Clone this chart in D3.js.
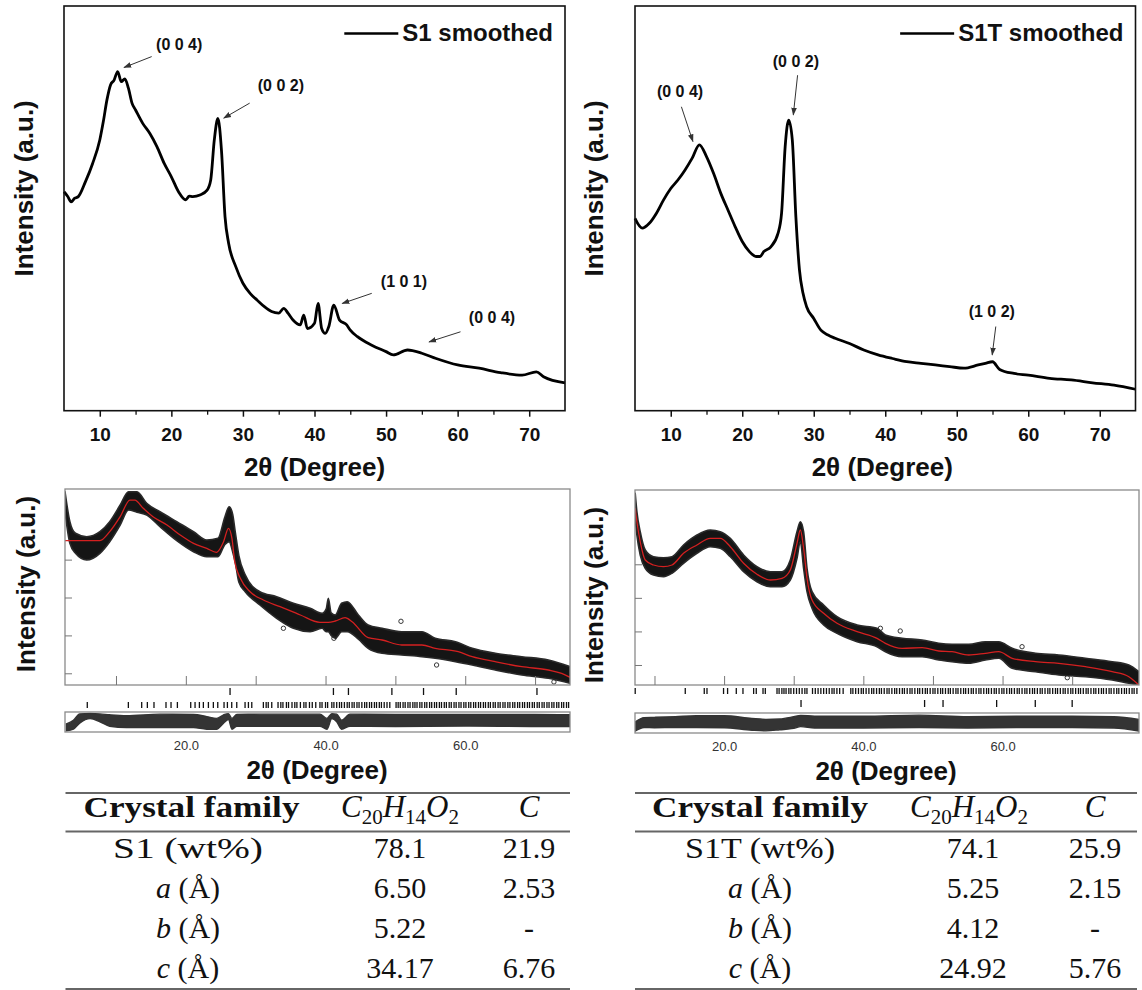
<!DOCTYPE html>
<html><head><meta charset="utf-8">
<script src="https://cdn.jsdelivr.net/npm/d3@7"></script>
<style>body{margin:0;background:#fff}svg{display:block}</style>
</head><body>
<svg id="c" width="1142" height="990"></svg>
<script>
// ---------------- DATA ----------------
// Top-left: S1 smoothed (2θ, intensity a.u.)
const s1X = [5,5.5,6,6.5,7,8,9,10,10.5,11,11.5,12,12.5,13,13.5,14,14.5,15,16,17,18,19,20,21,22,22.5,23,24,25,25.5,26,26.5,27,27.5,28,29,30,31,32,33,34,35,35.7,36.3,37,38,38.5,39,40,40.5,41,41.5,42,42.7,43.5,44.5,45,46,48,50,51,53,55,57,60,63,66,69,71,72,75];
const s1Y = [54.1,53.0,51.6,52.5,52.9,56.6,61.1,66.9,71.5,76.8,80.5,81.7,83.8,81.3,82.0,79.7,76.0,74.3,71.0,68.5,65.2,61.1,57.8,54.1,52.1,53.0,52.9,53.3,54.5,57.0,66.9,72.2,64.4,47.9,41.4,35.6,31.5,29.0,27.3,25.7,24.5,24.1,25.3,24.1,22.4,21.2,23.6,20.3,21.6,26.5,20.3,19.1,20.8,26.1,22.4,21.2,19.9,18.3,16.2,14.6,13.8,15.0,14.2,12.9,11.3,10.5,9.4,8.8,9.6,8.4,6.9];
// Top-right: S1T smoothed
const s1tX = [5,6,7,8,9,10,11,12,13,14,15,16,17,18,19,20,21,22,22.5,23,24,25,25.5,26,26.5,27,27.5,28,28.5,29,30,31,32,33,35,37,39,41,43,45,47,49,51,53,54,55,56,58,60,63,66,69,72,75];
const s1tY = [47.5,45.1,46.3,48.8,52.1,54.9,57.0,59.5,62.4,65.7,62.8,58.6,53.7,49.6,45.5,41.8,39.3,38.1,38.1,39.3,40.5,43.8,48.8,65.2,71.8,66.9,47.9,34.8,29.0,25.7,22.8,19.9,18.7,17.9,16.6,15.0,13.8,12.9,12.1,11.7,11.3,10.9,10.5,11.3,11.7,12.1,10.2,9.2,8.8,8.0,7.6,6.9,6.3,5.3];
const topMajorTicks = [10,20,30,40,50,60,70];
const topMinorTicks = [15,25,35,45,55,65];

// Peak annotations: label, label x/y (data), arrow from x/y to x/y (data)
const s1Labels = ["(0 0 4)","(0 0 2)","(1 0 1)","(0 0 4)"];
const s1LabX = [21.1,35.3,52.5,64.8], s1LabY = [89.1,79.0,30.6,21.7];
const s1ArrX0 = [17.25,30.94,48.0,60.4], s1ArrY0 = [87.5,76.0,29.0,19.5];
const s1ArrX1 = [13.38,27.32,43.87,56.0], s1ArrY1 = [84.8,72.3,26.5,17.0];
const s1tLabels = ["(0 0 4)","(0 0 2)","(1 0 2)"];
const s1tLabX = [11.3,27.5,54.9], s1tLabY = [77.5,84.9,23.2];
const s1tArrX0 = [11.49,27.74,55.46], s1tArrY0 = [75.1,82.9,20.8];
const s1tArrX1 = [13.1,27.14,54.96], s1tArrY1 = [66.5,73.1,13.8];

// Bottom-left: Rietveld S1 (observed band envelope, calculated, difference)
const blObsX = [2.7,3.4,4.2,5.8,7.7,9.1,10.6,11.8,13.0,14.4,16.3,18.7,21.1,23.0,24.6,25.6,26.2,26.7,27.1,27.6,28.5,30.6,33.0,35.4,37.8,39.5,40.1,40.4,40.8,41.4,42.3,43.1,44.7,46.1,48.1,50.9,53.8,55.7,58.6,61.0,64.3,68.1,71.9,75];
const blObsHi = [5792,5001,4695,4605,4737,5001,5441,5792,5792,5486,5265,5001,4737,4518,4563,5133,5397,5200,4700,4100,3600,3153,3021,2847,2715,2583,2700,2979,2600,2539,2847,2890,2539,2275,2188,2098,2098,1924,1834,1660,1528,1438,1351,1174];
const blObsLo = [5265,4431,4167,3990,4167,4473,4914,5309,5250,5178,4869,4500,4209,4077,4077,4400,4473,4209,3900,3400,3153,2802,2451,2188,2098,2188,2098,2098,2000,1924,2098,2098,1900,1660,1528,1483,1438,1396,1306,1219,1087,955,868,736];
const blCalcX = [2.7,7.7,9.1,10.6,12.0,12.7,13.9,15.3,17.3,19.2,21.1,23.0,24.4,25.4,26.1,26.6,27.0,27.8,29.2,31.1,33.5,36.4,39.2,40.4,41.4,42.8,43.8,46.1,48.1,50.9,53.8,55.7,59.0,61.0,64.3,68.1,71.9,73.8,75];
const blCalcY = [4500,4500,4737,5133,5573,5573,5354,5133,4914,4650,4431,4299,4193,4473,4827,4563,3945,3507,3153,2934,2758,2539,2346,2346,2380,2467,2362,1939,1879,1747,1747,1660,1570,1438,1306,1174,1087,1000,894];
const blOutX = [33.97,41.2,50.8,55.9,72.7], blOutY = [2188,1924,2372,1219,773];
const blDiffX = [2.9,3.9,4.8,6.3,7.7,9.1,11.5,16.3,21.1,23.0,24.4,25.4,26.1,26.6,27.3,30.6,35.4,39.2,40.2,40.9,41.6,42.3,43.5,50,60,70,75];
const blDiffHi = [-0.2,0.2,0.9,0.95,0.9,0.8,0.7,0.87,0.85,0.6,0.4,0.8,0.93,0.4,0.85,0.87,0.87,0.87,0.4,0.93,0.87,0.2,0.87,0.85,0.85,0.85,0.8];
const blDiffLo = [-0.97,-0.8,-0.13,0.37,0.03,-0.47,-0.63,-0.63,-0.63,-0.8,-0.8,-0.13,0.27,-0.8,-0.47,-0.47,-0.47,-0.47,-0.8,0.37,0.03,-0.8,-0.47,-0.5,-0.45,-0.5,-0.5];
const blBraggC = [26.33,41.13,43.28,49.5,54.03,58.71,70.27];
const blBraggA = [5.89,11.77,13.68,14.49,15.44,17.16,17.88,18.79,20.70,21.32,21.94,22.51,23.23,23.94,24.57,25.47,25.95,26.57,27.29,28.48,28.96,29.44,31.1,31.5,31.8,32.3,33.2,33.6,33.9,34.4,34.7,35.2,35.6,35.9,36.4,36.9,37.2,37.7,38.1,38.6,39.2,39.5,40.0,40.3,40.9,41.2,41.6,42.0,42.3,42.7,43.1,43.4,43.8,44.1,44.5,44.8,45.2,45.6,45.9,46.3,46.6,47.0,47.3,47.7,48.0,48.4,48.8,49.2,50.1,50.4,50.7,51.1,51.4,51.8,52.1,52.5,52.8,53.1,53.5,53.8,54.2,54.5,54.9,55.2,55.6,55.9,56.3,56.6,57.0,57.3,57.7,58.0,58.4,58.7,59.1,59.4,59.8,60.1,60.5,60.8,61.2,61.5,61.9,62.2,62.6,62.9,63.3,63.6,64.0,64.3,64.7,65.0,65.4,65.7,66.1,66.4,66.8,67.1,67.5,67.8,68.2,68.5,68.9,69.2,69.6,69.9,70.3,70.6,71.0,71.3,71.7,72.0,72.4,72.7,73.1,73.4,73.8,74.1,74.5,74.8];

// Bottom-right: Rietveld S1T
const brX = [7.23,7.47,7.95,8.67,9.86,11.30,12.51,14.17,16.10,18.01,19.45,20.89,22.80,24.72,26.64,28.32,29.51,30.47,30.95,31.42,31.91,32.63,34.30,36.22,39.10,41.97,43.17,45.57,48.44,50.83,52.75,55.14,57.54,59.45,61.38,64.73,68.08,71.91,75.75,78.14,79.57];
const brObsHi = [6115,5567,4971,4426,4226,4196,4226,4575,4873,5022,4971,4774,4277,3928,3779,3779,4128,4971,5269,4971,3881,3184,2787,2439,2192,2093,1894,1795,1745,1646,1617,1617,1694,1694,1497,1349,1298,1200,1098,1000,800];
const brObsLo = [5370,4873,4277,3881,3681,3630,3732,4030,4328,4524,4477,4226,3779,3481,3333,3333,3532,4179,4673,3881,3184,2689,2192,1944,1694,1545,1396,1247,1247,1149,1098,1051,1149,1200,902,800,702,651,553,455,404];
const brCalcY = [5668,5269,4673,4128,3979,3928,3979,4328,4575,4774,4774,4524,4030,3702,3532,3583,3830,4625,5022,4477,3583,2936,2540,2242,1992,1795,1646,1497,1515,1417,1396,1298,1349,1396,1200,1098,1051,949,800,651,404];
const brOutX = [42.45,45.3,62.8,69.3], brOutY = [2093,2013,1545,622];
const brDiffX = [7.2,8.5,10,13,16,20,24,26,28,30,31,33,40,48,55,62,70,76,79.6];
const brDiffHi = [0.1,0.6,0.63,0.7,0.8,0.8,0.5,0.4,0.45,0.7,0.85,0.75,0.75,0.87,0.7,0.75,0.75,0.7,0.4];
const brDiffLo = [-0.9,-0.5,-0.53,-0.5,-0.5,-0.53,-0.8,-0.87,-0.75,-0.6,-0.4,-0.55,-0.55,-0.5,-0.55,-0.5,-0.5,-0.55,-0.9];
const brBraggC = [31.05,48.8,51.45,59.15,64.7,70.0];
const brBraggA = [7.23,14.42,17.15,17.54,19.92,20.5,21.75,22.71,24.24,24.62,25.59,25.92,27.6,27.9,28.3,28.6,28.9,29.3,29.6,30.0,30.4,30.8,31.2,31.6,31.9,32.7,33.1,33.5,33.9,34.3,34.7,35.1,35.5,35.8,36.2,36.6,37.1,38.2,38.5,38.9,39.3,39.7,40.0,40.4,40.8,41.2,41.5,41.9,42.3,42.6,43.0,43.4,43.7,44.1,44.5,44.8,45.2,45.6,45.9,46.3,46.7,47.0,47.4,47.8,48.1,48.5,48.9,49.2,49.6,50.0,50.3,50.7,51.1,51.4,51.8,52.2,52.5,52.9,53.3,53.6,54.0,54.4,54.7,55.1,55.5,55.8,56.2,56.6,56.9,57.3,57.7,58.0,58.4,58.8,59.1,59.5,59.9,60.2,60.6,61.0,61.3,61.7,62.1,62.4,62.8,63.2,63.5,63.9,64.3,64.6,65.0,65.4,65.7,66.1,66.5,66.8,67.2,67.6,67.9,68.3,68.7,69.0,69.4,69.8,70.1,70.5,70.9,71.2,71.6,72.0,72.3,72.7,73.1,73.4,73.8,74.2,74.5,74.9,75.3,75.6,76.0,76.4,76.7,77.1,77.5,77.8,78.2,78.6,78.9,79.3];
const botYTicks = [1000,2000,3000,4000];
const botXTicks = [10,20,30,40,50,60,70];
const botXLabels = [20,40,60];

// Tables
const rowVars = ["","a","b","c"];
const rowRest = [" (Å)"," (Å)"," (Å)"];
const leftRowNames = ["S1 (wt%)"];
const rightRowNames = ["S1T (wt%)"];
const leftCol2 = ["78.1","6.50","5.22","34.17"], leftCol3 = ["21.9","2.53","-","6.76"];
const rightCol2 = ["74.1","5.25","4.12","24.92"], rightCol3 = ["25.9","2.15","-","5.76"];

// ---------------- DRAWING ----------------
const SANS = "'Liberation Sans', Arial, sans-serif";
const SERIF = "'Liberation Serif', 'Times New Roman', serif";
const svg = d3.select('#c');
const defs = svg.append('defs');
defs.append('marker').attr('id','ah').attr('viewBox','0 0 10 10').attr('refX',9).attr('refY',5)
  .attr('markerWidth',8).attr('markerHeight',8).attr('orient','auto').attr('markerUnits','userSpaceOnUse')
  .append('path').attr('d','M0,1.5 L10,5 L0,8.5 Z').attr('fill','#333');

function topPanel(o){
  const x = d3.scaleLinear().domain([5,75]).range([o.left,o.right]);
  const y = d3.scaleLinear().domain([0,100]).range([o.bottom,o.top]);
  const g = svg.append('g');
  g.append('path').datum(d3.zip(o.xs,o.ys))
    .attr('d', d3.line().x(d=>x(d[0])).y(d=>y(d[1])).curve(d3.curveMonotoneX))
    .attr('fill','none').attr('stroke','#000').attr('stroke-width',2.8).attr('stroke-linejoin','round');
  g.append('rect').attr('x',o.left).attr('y',o.top).attr('width',o.right-o.left).attr('height',o.bottom-o.top)
    .attr('fill','none').attr('stroke','#111').attr('stroke-width',1.6);
  const ax = g.append('g').attr('transform',`translate(0,${o.bottom})`)
    .call(d3.axisBottom(x).tickValues(topMajorTicks).tickSize(6).tickFormat(d3.format('d')));
  ax.select('.domain').remove();
  ax.selectAll('line').attr('stroke','#111').attr('stroke-width',1.5);
  ax.selectAll('text').attr('y',17).attr('font-size',19).attr('font-weight','bold').attr('font-family',SANS).attr('fill','#111');
  const mx = g.append('g').attr('transform',`translate(0,${o.bottom})`)
    .call(d3.axisBottom(x).tickValues(topMinorTicks).tickSize(4).tickFormat(''));
  mx.select('.domain').remove();
  mx.selectAll('line').attr('stroke','#111').attr('stroke-width',1.3);
  // titles
  g.append('text').attr('x',(o.left+o.right)/2 + o.xtOff).attr('y',o.bottom+65).attr('text-anchor','middle')
    .attr('font-family',SANS).attr('font-weight','bold').attr('font-size',26).attr('fill','#111').text('2θ (Degree)');
  g.append('text').attr('transform',`translate(${o.ytX},${(o.top+o.bottom)/2-20}) rotate(-90)`).attr('text-anchor','middle')
    .attr('dy','0.36em').attr('font-family',SANS).attr('font-weight','bold').attr('font-size',26).attr('fill','#111').text('Intensity (a.u.)');
  // legend
  const lt = g.append('text').attr('x',o.right-12).attr('y',o.top+35).attr('text-anchor','end')
    .attr('font-family',SANS).attr('font-weight','bold').attr('font-size',24).attr('fill','#111').text(o.legend);
  const w = lt.node().getComputedTextLength();
  g.append('line').attr('x1',o.right-12-w-58).attr('x2',o.right-12-w-4).attr('y1',o.top+27.5).attr('y2',o.top+27.5)
    .attr('stroke','#000').attr('stroke-width',2.6);
  // annotations
  o.labels.forEach((t,i)=>{
    g.append('text').attr('x',x(o.labX[i])).attr('y',y(o.labY[i])).attr('text-anchor','middle')
      .attr('font-family',SANS).attr('font-weight','bold').attr('font-size',16).attr('fill','#111').text(t);
    g.append('line').attr('x1',x(o.ax0[i])).attr('y1',y(o.ay0[i])).attr('x2',x(o.ax1[i])).attr('y2',y(o.ay1[i]))
      .attr('stroke','#333').attr('stroke-width',1).attr('marker-end','url(#ah)');
  });
}

topPanel({left:64,right:565,top:6,bottom:410.7,xs:s1X,ys:s1Y,legend:'S1 smoothed',ytX:24,xtOff:0,
  labels:s1Labels,labX:s1LabX,labY:s1LabY,ax0:s1ArrX0,ay0:s1ArrY0,ax1:s1ArrX1,ay1:s1ArrY1});
topPanel({left:635,right:1135.5,top:6,bottom:410.7,xs:s1tX,ys:s1tY,legend:'S1T smoothed',ytX:594,xtOff:-3,
  labels:s1tLabels,labX:s1tLabX,labY:s1tLabY,ax0:s1tArrX0,ay0:s1tArrY0,ax1:s1tArrX1,ay1:s1tArrY1});

function rietveld(o){
  const x = d3.scaleLinear().domain(o.xd).range([o.left,o.right]);
  const y = d3.scaleLinear().domain(o.yd).range([o.bottom,o.top]);
  const g = svg.append('g');
  const cid = 'clip'+o.id;
  defs.append('clipPath').attr('id',cid).append('rect').attr('x',o.left).attr('y',o.top)
    .attr('width',o.right-o.left).attr('height',o.bottom-o.top);
  const pg = g.append('g').attr('clip-path',`url(#${cid})`);
  const obs = o.obsX.map((v,i)=>[v,o.obsHi[i],o.obsLo[i]]);
  pg.append('path').datum(obs)
    .attr('d', d3.area().x(d=>x(d[0])).y1(d=>y(d[1])).y0(d=>y(d[2])).curve(d3.curveMonotoneX))
    .attr('fill','#151515').attr('stroke','#2a2a2a').attr('stroke-width',1.6).attr('stroke-linejoin','round');
  pg.selectAll('circle.out').data(d3.zip(o.outX,o.outY)).join('circle')
    .attr('cx',d=>x(d[0])).attr('cy',d=>y(d[1])).attr('r',2.2).attr('fill','none').attr('stroke','#222').attr('stroke-width',0.9);
  pg.append('path').datum(d3.zip(o.calcX,o.calcY))
    .attr('d', d3.line().x(d=>x(d[0])).y(d=>y(d[1])).curve(d3.curveMonotoneX))
    .attr('fill','none').attr('stroke','#d42020').attr('stroke-width',1.3);
  g.append('rect').attr('x',o.left).attr('y',o.top).attr('width',o.right-o.left).attr('height',o.bottom-o.top)
    .attr('fill','none').attr('stroke','#8a8a8a').attr('stroke-width',1.3);
  const ya = g.append('g').attr('transform',`translate(${o.left},0)`)
    .call(d3.axisRight(y).tickValues(botYTicks).tickSize(7).tickFormat(''));
  ya.select('.domain').remove(); ya.selectAll('line').attr('stroke','#777');
  const xa = g.append('g').attr('transform',`translate(0,${o.bottom})`)
    .call(d3.axisTop(x).tickValues(botXTicks).tickSize(9).tickFormat(''));
  xa.select('.domain').remove(); xa.selectAll('line').attr('stroke','#777');
  // Bragg rows
  [[o.r1, o.r1y],[o.r2, o.r2y]].forEach(([arr,yy])=>{
    g.selectAll(null).data(arr).join('line')
      .attr('x1',d=>x(d)).attr('x2',d=>x(d)).attr('y1',yy[0]).attr('y2',yy[1])
      .attr('stroke','#111').attr('stroke-width',1.3);
  });
  // difference
  const dy = d3.scaleLinear().domain([-1,1]).range([o.dBot-1,o.dTop+1]);
  const did = 'dclip'+o.id;
  defs.append('clipPath').attr('id',did).append('rect').attr('x',o.left).attr('y',o.dTop)
    .attr('width',o.right-o.left).attr('height',o.dBot-o.dTop);
  const dd = o.dX.map((v,i)=>[v,o.dHi[i],o.dLo[i]]);
  g.append('g').attr('clip-path',`url(#${did})`).append('path').datum(dd)
    .attr('d', d3.area().x(d=>x(d[0])).y1(d=>dy(d[1])).y0(d=>dy(d[2])).curve(d3.curveMonotoneX))
    .attr('fill','#1e1e1e').attr('fill-opacity',0.9).attr('stroke','#333').attr('stroke-width',1.4);
  g.append('rect').attr('x',o.left).attr('y',o.dTop).attr('width',o.right-o.left).attr('height',o.dBot-o.dTop)
    .attr('fill','none').attr('stroke','#8a8a8a').attr('stroke-width',1.3);
  const la = g.append('g').attr('transform',`translate(0,${o.dBot})`)
    .call(d3.axisBottom(x).tickValues(botXLabels).tickSize(0).tickFormat(d3.format('.1f')));
  la.select('.domain').remove();
  la.selectAll('text').attr('y',9).attr('font-size',13).attr('font-family',SANS).attr('fill','#333');
  g.append('text').attr('x',o.xtX).attr('y',o.dBot+47).attr('text-anchor','middle')
    .attr('font-family',SANS).attr('font-weight','bold').attr('font-size',26).attr('fill','#111').text('2θ (Degree)');
  g.append('text').attr('transform',`translate(${o.ytX},${o.ytY}) rotate(-90)`).attr('text-anchor','middle')
    .attr('dy','0.36em').attr('font-family',SANS).attr('font-weight','bold').attr('font-size',26).attr('fill','#111').text('Intensity (a.u.)');
}

rietveld({id:'L',left:65,right:570,top:489,bottom:685,xd:[2.7,75],yd:[691,5864],
  obsX:blObsX,obsHi:blObsHi,obsLo:blObsLo,calcX:blCalcX,calcY:blCalcY,outX:blOutX,outY:blOutY,
  r1:blBraggC,r1y:[688,695],r2:blBraggA,r2y:[702,708],
  dX:blDiffX,dHi:blDiffHi,dLo:blDiffLo,dTop:712,dBot:732,xtX:317,ytX:26,ytY:584});
rietveld({id:'R',left:635,right:1139,top:490,bottom:685,xd:[7.2,79.6],yd:[404,6213],
  obsX:brX,obsHi:brObsHi,obsLo:brObsLo,calcX:brX,calcY:brCalcY,outX:brOutX,outY:brOutY,
  r1:brBraggA,r1y:[688,694],r2:brBraggC,r2y:[700,707],
  dX:brDiffX,dHi:brDiffHi,dLo:brDiffLo,dTop:713,dBot:733,xtX:886,ytX:594,ytY:595});

function table(o){
  const g = svg.append('g');
  [793, 831.5, 989].forEach(yy=>g.append('line').attr('x1',o.left).attr('x2',o.right).attr('y1',yy).attr('y2',yy)
    .attr('stroke','#666').attr('stroke-width',2));
  g.append('text').attr('x',o.c1h).attr('y',817).attr('text-anchor','middle').attr('font-family',SERIF)
    .attr('font-weight','bold').attr('font-size',30).attr('fill','#111')
    .attr('textLength',216).attr('lengthAdjust','spacingAndGlyphs').text('Crystal family');
  const f = g.append('text').attr('x',o.c2h).attr('y',817).attr('text-anchor','middle').attr('font-family',SERIF)
    .attr('font-size',31).attr('fill','#111');
  [['C',0,true],['20',7,false],['H',-7,true],['14',7,false],['O',-7,true],['2',7,false]].forEach(([t,d,it])=>{
    const s = f.append('tspan').attr('dy',d).text(t);
    if(it) s.attr('font-style','italic'); else s.attr('font-size',21);
  });
  g.append('text').attr('x',o.c3).attr('y',817).attr('text-anchor','middle').attr('font-family',SERIF)
    .attr('font-style','italic').attr('font-size',31).attr('fill','#111').text('C');
  const ys = [858,898,938,978];
  ys.forEach((yy,i)=>{
    const t = g.append('text').attr('x',o.c1).attr('y',yy).attr('text-anchor','middle').attr('font-family',SERIF)
      .attr('font-size',30).attr('fill','#111');
    if(i===0){ t.attr('textLength',o.w0).attr('lengthAdjust','spacingAndGlyphs').text(o.names[0]); }
    else { t.append('tspan').attr('font-style','italic').text(rowVars[i]); t.append('tspan').text(rowRest[i-1]); }
    g.append('text').attr('x',o.c2).attr('y',yy).attr('text-anchor','middle').attr('font-family',SERIF)
      .attr('font-size',30).attr('fill','#111').text(o.col2[i]);
    g.append('text').attr('x',o.c3).attr('y',yy).attr('text-anchor','middle').attr('font-family',SERIF)
      .attr('font-size',30).attr('fill','#111').text(o.col3[i]);
  });
}
table({left:65.5,right:570,c1h:191.5,c1:188,c2h:400,c2:400,c3:529,names:leftRowNames,w0:150,col2:leftCol2,col3:leftCol3});
table({left:635,right:1137,c1h:760,c1:760,c2h:969,c2:973,c3:1095,names:rightRowNames,w0:150,col2:rightCol2,col3:rightCol3});
</script>
</body></html>
